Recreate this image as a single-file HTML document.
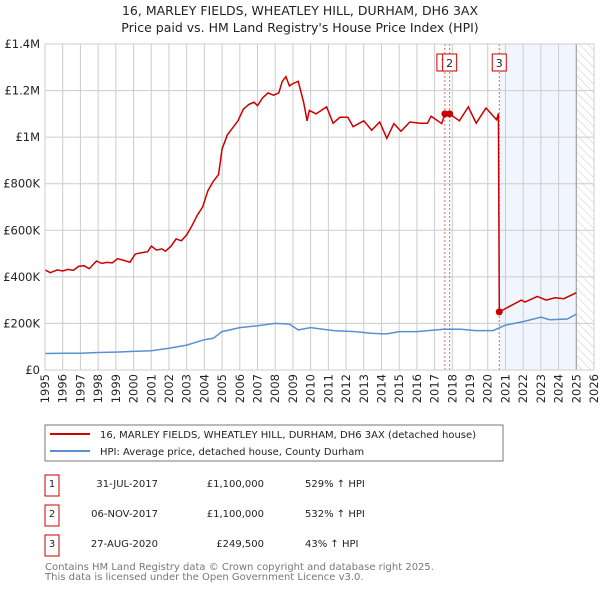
<!DOCTYPE html>
<html><head><meta charset="utf-8"><style>
body{margin:0;background:#fff;font-family:"Liberation Sans","DejaVu Sans",sans-serif;}
svg text{font-family:"DejaVu Sans","Liberation Sans",sans-serif;}
</style></head><body>
<svg id="c" width="600" height="590" viewBox="0 0 600 590" xmlns="http://www.w3.org/2000/svg">
<defs><pattern id="h" width="6" height="6" patternUnits="userSpaceOnUse" patternTransform="rotate(-45)"><line x1="0" y1="0" x2="0" y2="6" stroke="#ccc" stroke-width="1"/></pattern></defs>
<text x="300" y="15" text-anchor="middle" font-size="12.5" fill="#222">16, MARLEY FIELDS, WHEATLEY HILL, DURHAM, DH6 3AX</text>
<text x="300" y="32" text-anchor="middle" font-size="12.5" fill="#222">Price paid vs. HM Land Registry's House Price Index (HPI)</text>
<g id="grid"></g><g id="marks"></g><g id="axes"></g>
<rect x="45" y="425" width="458" height="36" fill="#fff" stroke="#777"/>
<line x1="50" y1="434" x2="90" y2="434" stroke="#cc0000" stroke-width="2"/>
<text x="100" y="438" font-size="10" fill="#222">16, MARLEY FIELDS, WHEATLEY HILL, DURHAM, DH6 3AX (detached house)</text>
<line x1="50" y1="451" x2="90" y2="451" stroke="#5b8fd4" stroke-width="2"/>
<text x="100" y="455" font-size="10" fill="#222">HPI: Average price, detached house, County Durham</text>
<g id="table" font-size="10" fill="#222"></g>
<text x="45" y="570" font-size="10" fill="#777">Contains HM Land Registry data © Crown copyright and database right 2025.</text>
<text x="45" y="580" font-size="10" fill="#777">This data is licensed under the Open Government Licence v3.0.</text>
</svg>
<script>
const years=[1995,1996,1997,1998,1999,2000,2001,2002,2003,2004,2005,2006,2007,2008,2009,2010,2011,2012,2013,2014,2015,2016,2017,2018,2019,2020,2021,2022,2023,2024,2025,2026];
const yTicks=[0,200000,400000,600000,800000,1000000,1200000,1400000];
const yTickLabels=["£0","£200K","£400K","£600K","£800K","£1M","£1.2M","£1.4M"];
const redT=[1995.0,1995.3,1995.7,1996.0,1996.3,1996.6,1996.9,1997.2,1997.5,1997.9,1998.2,1998.5,1998.8,1999.1,1999.5,1999.8,2000.1,2000.4,2000.8,2001.0,2001.3,2001.6,2001.8,2002.1,2002.4,2002.7,2003.0,2003.3,2003.6,2003.9,2004.2,2004.5,2004.8,2005.0,2005.3,2005.6,2005.9,2006.2,2006.5,2006.8,2007.0,2007.3,2007.6,2007.9,2008.2,2008.4,2008.6,2008.8,2009.0,2009.3,2009.6,2009.8,2009.93,2010.3,2010.9,2011.27,2011.65,2012.1,2012.4,2013.0,2013.45,2013.9,2014.3,2014.7,2015.1,2015.6,2016.2,2016.6,2016.8,2017.4,2017.58,2017.85,2018.4,2018.9,2019.35,2019.9,2020.5,2020.6,2020.65,2021.2,2021.9,2022.1,2022.8,2023.3,2023.8,2024.3,2025.0];
const redV=[430,418,430,425,432,428,445,448,435,468,458,462,460,478,470,463,498,503,508,532,515,520,510,530,563,555,580,620,665,700,770,810,840,950,1010,1040,1070,1120,1140,1150,1135,1170,1190,1180,1190,1240,1260,1220,1230,1240,1150,1070,1115,1100,1130,1060,1085,1085,1045,1070,1030,1065,995,1058,1025,1065,1060,1060,1090,1058,1100,1100,1070,1130,1060,1125,1075,1102,249.5,272,300,292,316,300,310,306,332];
const blueT=[1995,1996,1997,1998,1999,2000,2001,2002,2003,2004,2004.5,2005,2006,2007,2008,2008.8,2009.3,2010,2011.3,2012.5,2013.5,2014.3,2015,2016,2017.5,2018.5,2019.3,2020.3,2021,2022,2023,2023.5,2024.5,2025.0];
const blueV=[71,72,72,75,77,80,83,93,107,130,136,165,182,190,200,197,172,182,169,165,157,155,165,165,175,175,169,169,193,208,227,216,219,240];
const saleT=[2017.58,2017.85,2020.65];
const saleV=[1100,1100,249.5];
const saleLabels=["1","2","3"];
const saleDates=["31-JUL-2017","06-NOV-2017","27-AUG-2020"];
const salePrices=["£1,100,000","£1,100,000","£249,500"];
const saleHpi=["529% ↑ HPI","532% ↑ HPI","43% ↑ HPI"];
const X0=45,X1=594,Y0=370,Y1=44;
const xs=t=>X0+(t-1995)/(2026-1995)*(X1-X0);
const ys=v=>Y0-v/1400000*(Y0-Y1);
const NS="http://www.w3.org/2000/svg";
function mk(p,tag,a){const e=document.createElementNS(NS,tag);for(const k in a)e.setAttribute(k,a[k]);p.appendChild(e);return e;}
const G=document.getElementById('grid'),M=document.getElementById('marks'),A=document.getElementById('axes'),T=document.getElementById('table');
let r=mk(G,'rect',{x:xs(saleT[2]),y:Y1,width:xs(2025.0)-xs(saleT[2]),height:Y0-Y1,fill:'#eef3fc',opacity:0.8});


r=mk(G,'rect',{x:xs(2025.0),y:Y1,width:X1-xs(2025.0),height:Y0-Y1,fill:'url(#h)'});


years.forEach(y=>{const l=mk(G,'line',{x1:xs(y),x2:xs(y),y1:Y1,y2:Y0,stroke:'#ccc'});


const t=mk(A,'text',{x:0,y:0,'font-size':11.5,fill:'#222','text-anchor':'end',transform:`translate(${xs(y)+4},374) rotate(-90)`});t.textContent=y;

});
yTicks.forEach((v,i)=>{const l=mk(G,'line',{x1:X0,x2:X1,y1:ys(v),y2:ys(v),stroke:'#ccc'});


const t=mk(A,'text',{x:40,y:ys(v)+4,'font-size':11.5,fill:'#222','text-anchor':'end'});t.textContent=yTickLabels[i];

});
let ln=mk(G,'line',{x1:xs(2025.0),x2:xs(2025.0),y1:Y1,y2:Y0,stroke:'#999','stroke-width':1});


saleT.forEach((t,i)=>{const l=mk(M,'line',{x1:xs(t),x2:xs(t),y1:Y1,y2:Y0,stroke:'#e06666','stroke-dasharray':'2,2'});

});
const pts=(T_,V)=>T_.map((t,i)=>xs(t).toFixed(1)+','+ys(V[i]*1000).toFixed(1)).join(' ');
let p=mk(M,'polyline',{points:pts(blueT,blueV),fill:'none',stroke:'#5b8fd4','stroke-width':1.5});


p=mk(M,'polyline',{points:pts(redT,redV),fill:'none',stroke:'#cc0000','stroke-width':1.5});


saleT.forEach((t,i)=>{const c=mk(M,'circle',{cx:xs(t),cy:ys(saleV[i]*1000),r:3.5,fill:'#cc0000'});


const bx=i==0?xs(t)-8:xs(t)-7;
const b=mk(M,'rect',{x:bx,y:54,width:14,height:17,fill:'#fff',stroke:'#cc0000'});


const tx=mk(M,'text',{x:bx+7,y:67,'font-size':11,'text-anchor':'middle',fill:'#222'});tx.textContent=saleLabels[i];

});
let fr=mk(A,'rect',{x:X0,y:Y1,width:X1-X0,height:Y0-Y1,fill:'none',stroke:'#ccc'});


saleLabels.forEach((s,i)=>{const y=475+i*30;
const b=mk(T,'rect',{x:45,y:y,width:14,height:21,fill:'none',stroke:'#cc0000'});


const cells=[[52,s,'middle'],[158,saleDates[i],'end'],[264,salePrices[i],'end'],[305,saleHpi[i],'start']];
cells.forEach(c=>{const t=mk(T,'text',{x:c[0],y:y+12,'text-anchor':c[2]});t.textContent=c[1];

});});
</script>
</body></html>
